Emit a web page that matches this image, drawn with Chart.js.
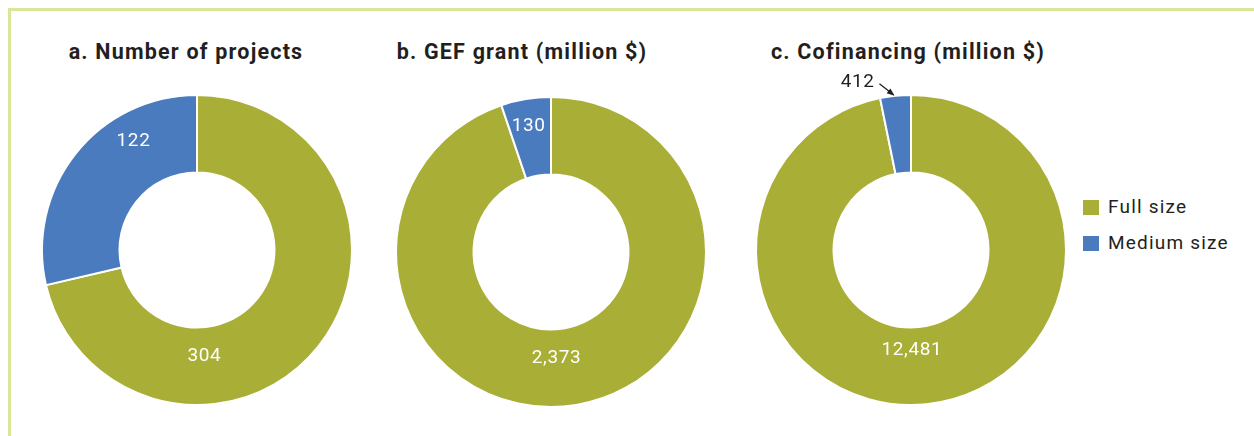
<!DOCTYPE html>
<html>
<head>
<meta charset="utf-8">
<script src="https://cdn.jsdelivr.net/npm/chart.js@4.4.1/dist/chart.umd.min.js"></script>
<style>
  html,body{margin:0;padding:0;background:#fff;}
  body{width:1254px;height:436px;position:relative;overflow:hidden;font-family:Roboto,"DejaVu Sans",sans-serif;color:#231f20;}
  #frame{position:absolute;left:8px;top:8px;width:1260px;height:450px;border:3px solid #d9e79b;box-sizing:border-box;}
  .title{position:absolute;top:39px;font-weight:bold;font-size:21.5px;white-space:nowrap;transform:translateX(-50%);letter-spacing:1.2px;}
  canvas{position:absolute;}
  .leg{position:absolute;left:1083px;font-size:19px;white-space:nowrap;letter-spacing:1.2px;}
  .leg span{display:inline-block;width:16px;height:15px;vertical-align:-2px;margin-right:9px;}
</style>
</head>
<body>
<div id="frame"></div>
<div class="title" id="t0" style="left:186px"></div>
<div class="title" id="t1" style="left:522px"></div>
<div class="title" id="t2" style="left:908px"></div>
<canvas id="c0" width="340" height="360" style="left:27px;top:59px"></canvas>
<canvas id="c1" width="340" height="360" style="left:381px;top:61px"></canvas>
<canvas id="c2" width="340" height="360" style="left:741px;top:59px"></canvas>
<div class="leg" id="l0" style="top:195px"></div>
<div class="leg" id="l1" style="top:231px"></div>
<script>
const titles = ["a. Number of projects", "b. GEF grant (million $)", "c. Cofinancing (million $)"];
const categories = ["Full size", "Medium size"];
const fullSize = [304, 2373, 12481];
const mediumSize = [122, 130, 412];
const colors = ["#a9ae37", "#4a7bbe"];

// label placement (degrees clockwise from top, radius in px) for [full, medium]
const labelPlacement = [
  [{a:176, r:106, inside:true}, {a:330, r:127, inside:true}],
  [{a:177, r:105, inside:true}, {a:350, r:129, inside:true}],
  [{a:179.5, r:99, inside:true}, {outside:true}]
];

const fmt = v => v.toLocaleString('en-US');

const labelPlugin = {
  id: 'segLabels',
  afterDatasetsDraw(chart) {
    const ctx = chart.ctx;
    const meta = chart.getDatasetMeta(0);
    const idx = chart.options.plugins.segLabels.index;
    const ds = chart.data.datasets[0];
    const place = labelPlacement[idx];
    ctx.save();
    ctx.textAlign = 'center';
    ctx.textBaseline = 'middle';
    try { ctx.letterSpacing = '0.6px'; } catch (e) {}
    meta.data.forEach((arc, i) => {
      const p = place[i];
      const cx = arc.x, cy = arc.y;
      const text = fmt(ds.data[i]);
      if (p.inside) {
        const ang = p.a * Math.PI / 180;
        ctx.font = '19px Roboto, "DejaVu Sans", sans-serif';
        ctx.fillStyle = '#ffffff';
        ctx.fillText(text, cx + p.r * Math.sin(ang), cy - p.r * Math.cos(ang) + 1);
      } else {
        // outside label with arrow pointing to the arc's outer edge
        const mid = (arc.startAngle + arc.endAngle) / 2;
        const tx = cx + arc.outerRadius * Math.cos(mid);
        const ty = cy + arc.outerRadius * Math.sin(mid);
        ctx.font = '19px Roboto, "DejaVu Sans", sans-serif';
        ctx.fillStyle = '#231f20';
        ctx.textAlign = 'right';
        ctx.fillText(text, tx - 21, ty - 14);
        const x1 = tx - 16, y1 = ty - 12, x2 = tx - 2, y2 = ty - 1;
        ctx.strokeStyle = '#231f20';
        ctx.lineWidth = 1.3;
        ctx.beginPath(); ctx.moveTo(x1, y1); ctx.lineTo(x2, y2); ctx.stroke();
        const a = Math.atan2(y2 - y1, x2 - x1);
        ctx.beginPath();
        ctx.moveTo(x2 + 1, y2 + 1);
        ctx.lineTo(x2 - 7 * Math.cos(a - 0.45), y2 - 7 * Math.sin(a - 0.45));
        ctx.lineTo(x2 - 7 * Math.cos(a + 0.45), y2 - 7 * Math.sin(a + 0.45));
        ctx.closePath();
        ctx.fillStyle = '#231f20';
        ctx.fill();
      }
    });
    ctx.restore();
  }
};

titles.forEach((t, i) => { document.getElementById('t' + i).textContent = t; });
categories.forEach((c, i) => {
  const el = document.getElementById('l' + i);
  el.innerHTML = '<span style="background:' + colors[i] + '"></span>';
  el.appendChild(document.createTextNode(c));
});

for (let i = 0; i < 3; i++) {
  new Chart(document.getElementById('c' + i), {
    type: 'doughnut',
    data: {
      labels: categories,
      datasets: [{
        data: [fullSize[i], mediumSize[i]],
        backgroundColor: colors,
        borderColor: '#ffffff',
        borderWidth: 2
      }]
    },
    options: {
      responsive: false,
      animation: false,
      cutout: '50%',
      layout: { padding: { top: 35, bottom: 13, left: 14, right: 14 } },
      plugins: {
        legend: { display: false },
        tooltip: { enabled: false },
        title: { display: false },
        segLabels: { index: i }
      }
    },
    plugins: [labelPlugin]
  });
}
</script>
</body>
</html>
